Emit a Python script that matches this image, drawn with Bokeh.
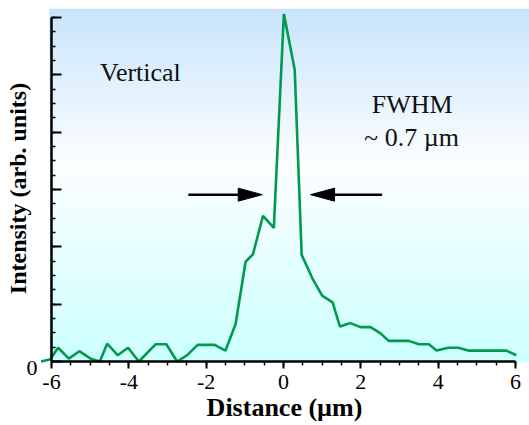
import numpy as np
from bokeh.plotting import figure
from bokeh.models import (Range1d, FixedTicker, Label, ColumnDataSource,
                          LinearAxis, PrintfTickFormatter)
from bokeh.embed import file_html
from bokeh.resources import INLINE

# ---- data ----
distance_um = [-6.27, -6.03, -5.83, -5.55, -5.28, -4.99, -4.75, -4.56, -4.29, -4.02,
               -3.74, -3.31, -3.03, -2.75, -2.49, -2.22, -1.96, -1.78, -1.50, -1.24,
               -0.98, -0.79, -0.53, -0.25, 0.01, 0.29, 0.47, 0.74, 1.00, 1.27,
               1.46, 1.73, 1.99, 2.25, 2.51, 2.72, 2.98, 3.24, 3.50, 3.76,
               3.96, 4.26, 4.52, 4.78, 5.04, 5.30, 5.50, 5.76, 6.02]
intensity = [0.00, 0.04, 0.24, 0.05, 0.18, 0.05, 0.00, 0.31, 0.11, 0.24,
             0.00, 0.30, 0.30, 0.00, 0.11, 0.29, 0.29, 0.29, 0.19, 0.65,
             1.74, 1.87, 2.54, 2.33, 6.06, 5.09, 1.86, 1.46, 1.15, 1.03,
             0.61, 0.67, 0.60, 0.60, 0.49, 0.36, 0.36, 0.36, 0.30, 0.30,
             0.19, 0.24, 0.24, 0.19, 0.19, 0.19, 0.19, 0.19, 0.11]
x_ticks = [-6, -4, -2, 0, 2, 4, 6]
y_ticks = [0, 1, 2, 3, 4, 5, 6]
y_zero_label_pos = -0.105   # the "0" sits just below the origin

# FWHM arrows (start, tip) and level
arrow_left = (-2.46, -0.55)
arrow_right = (2.55, 0.70)
arrow_y = 2.91

FONT = "Liberation Serif"
LINE_COLOR = "#009a4c"

# ---- layout ----
W, H = 529, 425
ML, MR, MT, MB = 39, 0, 8, 57
x0, x1 = -6.310, 6.362
y0, y1 = -0.122, 6.157
frame_w = W - ML - MR
frame_h = H - MT - MB
sx = frame_w / (x1 - x0)
sy = frame_h / (y1 - y0)

p = figure(width=W, height=H, output_backend="svg", toolbar_location=None,
           title=None, x_range=Range1d(x0, x1), y_range=Range1d(y0, y1),
           min_border_left=ML, min_border_right=MR, min_border_top=MT,
           min_border_bottom=MB, x_axis_location=None, y_axis_location=None)
p.background_fill_color = "white"
p.border_fill_color = "white"
p.outline_line_color = None
p.xgrid.visible = False
p.ygrid.visible = False

# background gradient (decorative)
bg_left = -6.0 - 2.0 / sx
bg_bottom = -1.0 / sy
n = 160
edges = np.linspace(y1, bg_bottom, n + 1)
stops_y = [y1, y1 - 157 / sy, bg_bottom]
stops_c = [(200, 228, 251), (252, 254, 255), (204, 255, 255)]
cols = []
for i in range(n):
    yc = 0.5 * (edges[i] + edges[i + 1])
    rgb = [int(round(np.interp(-yc, [-s for s in stops_y], [c[k] for c in stops_c]))) for k in range(3)]
    cols.append("#%02x%02x%02x" % tuple(rgb))
ov = 0.6 / sy
tops = list(edges[:-1] + ov)
tops[0] = y1
bots = list(edges[1:] - ov)
bots[-1] = bg_bottom
p.quad(left=bg_left, right=x1, top=tops, bottom=bots, fill_color=cols, line_color=None)

# data line
src = ColumnDataSource(dict(x=distance_um, y=intensity))
p.line("x", "y", source=src, line_color=LINE_COLOR, line_width=2.6)

# x axis line + ticks at y = 0
xa = LinearAxis(fixed_location=0)
xa.ticker = FixedTicker(ticks=x_ticks, minor_ticks=list(np.arange(-6, 6.01, 0.5)))
xa.bounds = (-6, 6)
xa.axis_line_width = 2.5
xa.major_tick_in = 0
xa.major_tick_out = 9
xa.minor_tick_in = 0
xa.minor_tick_out = 4
xa.major_tick_line_width = 2
xa.minor_tick_line_width = 1.5
xa.major_label_text_color = None
p.add_layout(xa, "below")

# x tick labels and axis title
xb = LinearAxis()
xb.ticker = FixedTicker(ticks=x_ticks, minor_ticks=[])
xb.formatter = PrintfTickFormatter(format="%d")
xb.axis_line_color = None
xb.major_tick_line_color = None
xb.minor_tick_line_color = None
xb.major_tick_in = 0
xb.major_tick_out = 0
xb.major_label_text_font = FONT
xb.major_label_text_font_size = "22px"
xb.major_label_text_color = "black"
xb.major_label_standoff = 6
xb.axis_label = "Distance (µm)"
xb.axis_label_text_font = FONT
xb.axis_label_text_font_size = "26px"
xb.axis_label_text_font_style = "bold"
xb.axis_label_text_color = "black"
xb.axis_label_standoff = 1
p.add_layout(xb, "below")

# y axis line + ticks at x = -6
ya = LinearAxis(fixed_location=-6)
ya.ticker = FixedTicker(ticks=y_ticks, minor_ticks=list(np.arange(0, 6.01, 0.25)))
ya.bounds = (0, 6)
ya.axis_line_width = 2.5
ya.major_tick_in = 10
ya.major_tick_out = 0
ya.minor_tick_in = 4
ya.minor_tick_out = 0
ya.major_tick_line_width = 2
ya.minor_tick_line_width = 1.5
ya.major_label_text_color = None
p.add_layout(ya, "left")

# y: the single "0" label and the axis title
yb = LinearAxis()
yb.ticker = FixedTicker(ticks=[y_zero_label_pos], minor_ticks=[])
yb.formatter = PrintfTickFormatter(format="0")
yb.axis_line_color = None
yb.major_tick_line_color = None
yb.minor_tick_line_color = None
yb.major_tick_in = 0
yb.major_tick_out = 0
yb.major_label_standoff = 2
yb.major_label_text_font = FONT
yb.major_label_text_font_size = "22px"
yb.major_label_text_color = "black"
yb.axis_label = "Intensity (arb. units)"
yb.axis_label_text_font = FONT
yb.axis_label_text_font_size = "24px"
yb.axis_label_text_font_style = "bold"
yb.axis_label_text_color = "black"
yb.axis_label_standoff = -7
p.add_layout(yb, "left")

# annotations
for (tx, ty, tt) in ((-3.70, 5.04, "Vertical"), (3.33, 4.49, "FWHM"), (3.31, 3.91, "~ 0.7 µm")):
    p.add_layout(Label(x=tx, y=ty, text=tt, text_align="center",
                       text_baseline="alphabetic", text_font=FONT,
                       text_font_size="26px", text_color="#111111"))

# arrows: shaft + slender head
head_len = 24 / sx
head_half = 6.5 / sy
for (xs, xt) in (arrow_left, arrow_right):
    d = 1 if xt > xs else -1
    base = xt - d * head_len
    p.segment(x0=[xs], y0=[arrow_y], x1=[base + d * 2 / sx], y1=[arrow_y],
              line_color="black", line_width=2.5)
    p.patch(x=[xt, base, base], y=[arrow_y, arrow_y + head_half, arrow_y - head_half],
            fill_color="black", line_color="black", line_width=1)

open("out.html", "w").write(file_html(p, INLINE))
